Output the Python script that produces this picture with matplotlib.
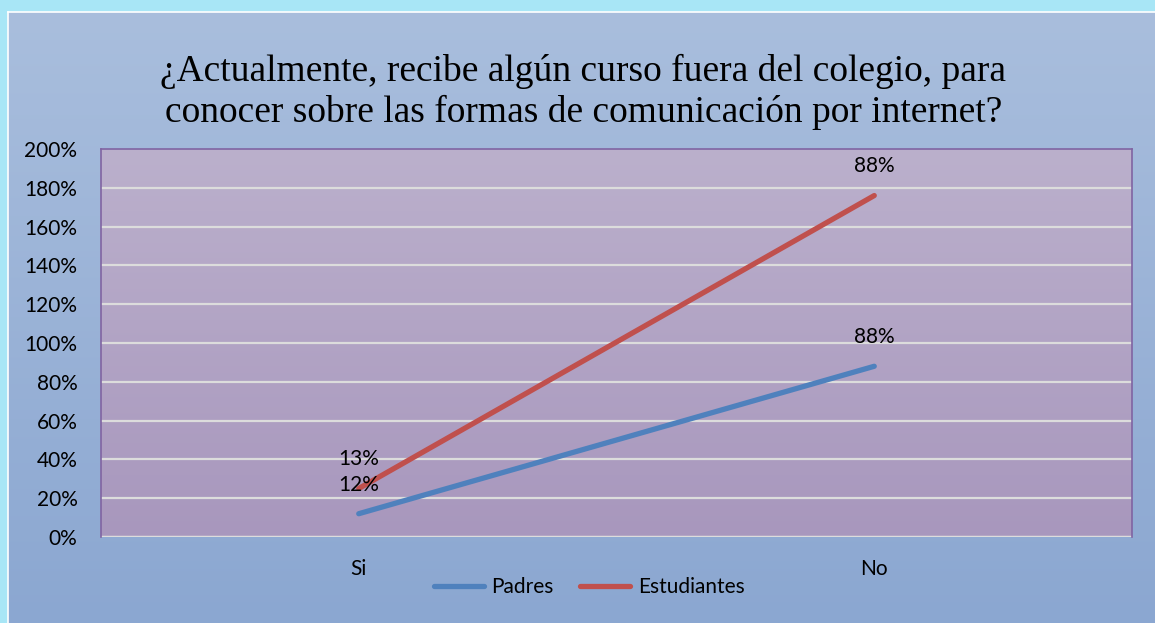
import numpy as np
import matplotlib
matplotlib.use("Agg")
from matplotlib import pyplot as plt
from matplotlib.colors import LinearSegmentedColormap

categories = ["Si", "No"]
padres = [12, 88]
estudiantes = [13, 88]
series_names = ["Padres", "Estudiantes"]
yticks = [0, 20, 40, 60, 80, 100, 120, 140, 160, 180, 200]

W, H = 1155, 623
FONT = "Lato"
FS = 15
fig = plt.figure(figsize=(W / 100, H / 100), dpi=100)
fig.patch.set_facecolor("#A8E6F6")

# background panel with vertical gradient
bg = fig.add_axes([8 / W, 0, 1 - 8 / W, 1 - 12 / H])
bg_cmap = LinearSegmentedColormap.from_list("bg", ["#A9BEDD", "#8BA7D1"])
bg.imshow(np.linspace(0, 1, 256).reshape(-1, 1), aspect="auto", cmap=bg_cmap,
          extent=[0, 1, 0, 1])
bg.set_xlim(0, 1)
bg.set_ylim(0, 1)
bg.axis("off")
fig.add_artist(plt.Line2D([7.5 / W, 7.5 / W], [0, 1 - 11.5 / H], color="white", lw=1.2))
fig.add_artist(plt.Line2D([7.5 / W, 1], [1 - 11.5 / H, 1 - 11.5 / H], color="white", lw=1.2))

fig.text(0.505, 1 - 92 / H, "¿Actualmente, recibe algún curso fuera del colegio, para\n"
         "conocer sobre las formas de comunicación por internet?",
         ha="center", va="center", fontsize=27, family="Liberation Serif",
         linespacing=1.22)

ax = fig.add_axes([101 / W, 86 / H, 1031 / W, 388 / H])
ax.set_xlim(-0.5, 1.5)
ax.set_ylim(0, 200)
plot_cmap = LinearSegmentedColormap.from_list("pl", ["#A897BD", "#BBB0CC"])
ax.imshow(np.linspace(0, 1, 256).reshape(-1, 1), aspect="auto", cmap=plot_cmap,
          extent=[-0.5, 1.5, 0, 200], origin="lower", zorder=0)
for t in yticks[1:-1]:
    ax.axhline(t, color="#DCDCDC", lw=1.6, zorder=1)
ax.axhline(0, color="#DCDCDC", lw=2.5, zorder=1)

x = np.arange(len(categories))
stacked = np.array(padres) + np.array(estudiantes)
ax.plot(x, padres, color="#4F81BD", lw=3.8, solid_capstyle="round", zorder=3,
        label=series_names[0])
ax.plot(x, stacked, color="#C0504D", lw=3.8, solid_capstyle="round", zorder=3,
        label=series_names[1])

lab_font = dict(fontsize=FS, family=FONT, ha="center", va="center")
for xi, v in zip(x, padres):
    ax.annotate(f"{v}%", (xi, v), xytext=(0, 21), textcoords="offset points", **lab_font)
for xi, v, s in zip(x, estudiantes, stacked):
    ax.annotate(f"{v}%", (xi, s), xytext=(0, 21), textcoords="offset points", **lab_font)

ax.set_yticks(yticks)
ax.set_yticklabels([f"{t}%" for t in yticks], fontsize=FS, family=FONT)
ax.set_xticks(x)
ax.set_xticklabels(categories, fontsize=FS, family=FONT)
ax.tick_params(length=0)
ax.tick_params(axis="y", pad=17)
ax.tick_params(axis="x", pad=16)
for side in ["left", "top", "right"]:
    ax.spines[side].set_color("#8064A2")
    ax.spines[side].set_linewidth(1.2)
ax.spines["bottom"].set_visible(False)

leg = fig.legend(loc="center", bbox_to_anchor=(589 / W, 1 - 587 / H), ncol=2,
                 frameon=False, prop={"family": FONT, "size": FS},
                 handlelength=2.4, columnspacing=1.3, handletextpad=0.35)

fig.savefig("out.png", dpi=100, facecolor=fig.get_facecolor())
